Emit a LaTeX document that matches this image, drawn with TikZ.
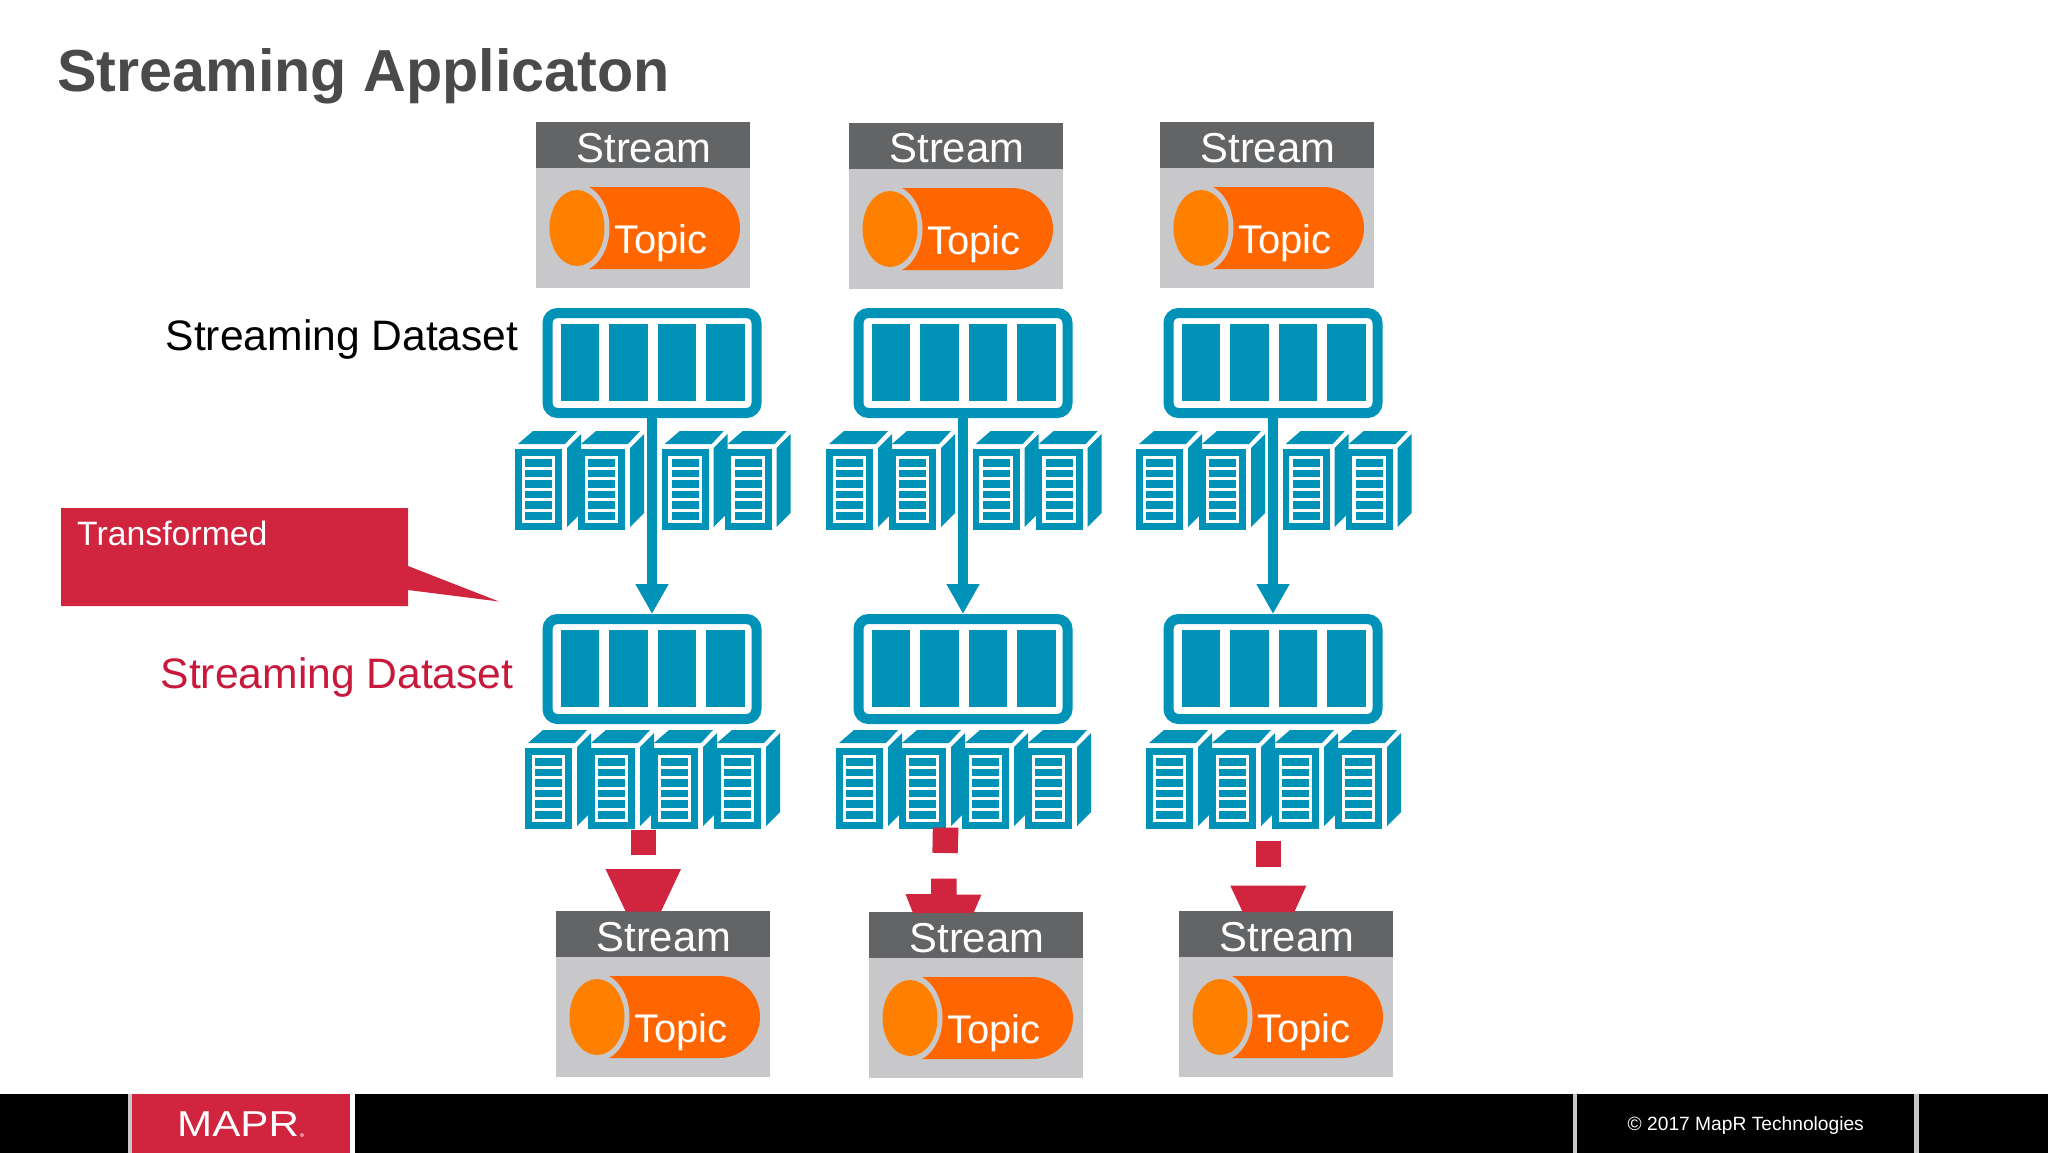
\documentclass[tikz,border=0pt]{standalone}
\usepackage{xcolor}
\usepackage{fontspec}
\setmainfont{Liberation Sans}
\usetikzlibrary{arrows.meta}

\definecolor{teal}{HTML}{0093B7}
\definecolor{hdrgrey}{HTML}{636466}
\definecolor{boxgrey}{HTML}{C8C8CA}
\definecolor{topicdark}{HTML}{FF6600}
\definecolor{topiclight}{HTML}{FF8000}
\definecolor{redbox}{HTML}{D0243F}
\definecolor{redtext}{HTML}{C8193C}
\definecolor{titlegrey}{HTML}{4A4A4C}

\newcommand{\px}[1]{\fontsize{#1}{#1}\selectfont}

\tikzset{
    txt/.style={inner sep=0pt, anchor=base west},
    dataset/.style={draw=teal, line width=10pt, rounded corners=10pt, fill=white,
        minimum width=209pt, minimum height=100pt, inner sep=0pt},
    flow/.style={draw=teal, line width=10pt, -{Triangle[length=30pt,width=31pt]}},
    redshape/.style={fill=redbox},
    stream/.pic={
        \fill[boxgrey] (0,0) rectangle (214,166);
        \fill[hdrgrey] (0,0) rectangle (214,46);
        \fill[topicdark] (40,65) [rounded corners=41pt] -- (204,65) -- (204,147) [sharp corners] -- (40,147) -- cycle;
        \fill[boxgrey] (41,106) ellipse [x radius=32.5, y radius=44];
        \fill[topiclight] (41,106) ellipse [x radius=27.5, y radius=38];
        \node[txt, white, font=\px{41.8}] (-head) at (40.3,40) {Stream};
        \node[txt, white, font=\px{40}] (-topic) at (78,131.7) {Topic};
    },
    server/.pic={
        \fill[teal] (0,0) rectangle (47,81);
        \fill[teal] (3,-5) -- (18,-18) -- (62,-18) -- (50,-5) -- cycle;
        \fill[teal] (52,-1) -- (66,-15) -- (66,64) -- (52,78) -- cycle;
        \draw[white, line width=3.5pt] (8.4,8.4) rectangle (38.6,72.4);
        \foreach \a/\b in {17.5/20.5,28/31,38.5/41.5,49/52,59.5/62.5}
            \fill[white] (8.4,\a) rectangle (38.6,\b);
    }
}

\begin{document}
\begin{tikzpicture}[x=1pt,y=-1pt]
    \useasboundingbox (0,0) rectangle (2048,1153);
    \fill[white] (0,0) rectangle (2048,1153);

    \node[txt, titlegrey, font=\px{59.3}\bfseries] (title) at (57,91.5) {Streaming Applicaton};
    \node[txt, font=\px{42.6}] (lblin) at (165.5,350) {Streaming Dataset};
    \node[txt, redtext, font=\px{42.6}] (lblout) at (160.5,688) {Streaming Dataset};

    % callout
    \fill[redbox] (61,508) -- (408,508) -- (408,566) -- (499,601.5) -- (408,590) -- (408,606) -- (61,606) -- cycle;
    \node[txt, white, font=\px{33.8}] (callout) at (77,545) {Transformed};

    % three columns
    \foreach \c/\dx/\sx/\sy/\bx/\by in {1/0/536/122/556/911, 2/311/849/123/869/912, 3/621/1160/122/1179/911} {
        \pic (in\c) at (\sx,\sy) {stream};
        \node[dataset] (top\c) at (652+\dx,363) {};
        \node[dataset] (low\c) at (652+\dx,669) {};
        \foreach \n in {0,1,2,3} {
            \fill[teal] (560.5+\dx+\n*48.5,324) rectangle +(38.5,77);
            \fill[teal] (560.5+\dx+\n*48.5,630) rectangle +(38.5,77);
        }
        \foreach \s in {0,63,146.7,209.7}
            \pic at (515+\dx+\s,449) {server};
        \foreach \s in {0,63,126,189}
            \pic at (525+\dx+\s,748) {server};
        \draw[flow] (top\c) -- (low\c);
        \pic (out\c) at (\bx,\by) {stream};
    }

    % red arrow pieces
    \fill[redshape] (630.5,830) rectangle (656,855);
    \fill[redshape] (605.5,869) -- (681,869) -- (661,911.5) -- (625.7,911.5) -- cycle;
    \fill[redshape] (932.8,827.7) -- (958.5,827.7) -- (957.7,853.3) -- (932.4,852.7) -- cycle;
    \fill[redshape] (931,878.7) -- (956.5,878.7) -- (956.5,894.7) -- (981.4,894.7) -- (973.5,913) -- (913,913) -- (905.5,894) -- (931,894) -- cycle;
    \fill[redshape] (1255.7,841.3) rectangle (1281.3,866.7);
    \fill[redshape] (1230.3,885.7) -- (1306.3,885.7) -- (1294.3,912) -- (1242.7,912) -- cycle;

    % footer
    \fill[black] (0,1094) rectangle (2048,1153);
    \fill[boxgrey] (128,1094) rectangle (132,1153);
    \fill[redbox] (132,1094) rectangle (350,1153);
    \fill[white] (350,1094) rectangle (355,1153);
    \fill[boxgrey] (1572.5,1094) rectangle (1576.5,1153);
    \fill[boxgrey] (1914,1094) rectangle (1918.5,1153);
    \node[txt, white, font=\px{36}, xscale=1.17] (logo) at (177,1136) {MAPR};
    \fill[redtext!50!white] (302,1135) circle (2);
    \node[txt, white, font=\px{19.2}] (copy) at (1627.5,1130) {© 2017 MapR Technologies};
\end{tikzpicture}
\end{document}
